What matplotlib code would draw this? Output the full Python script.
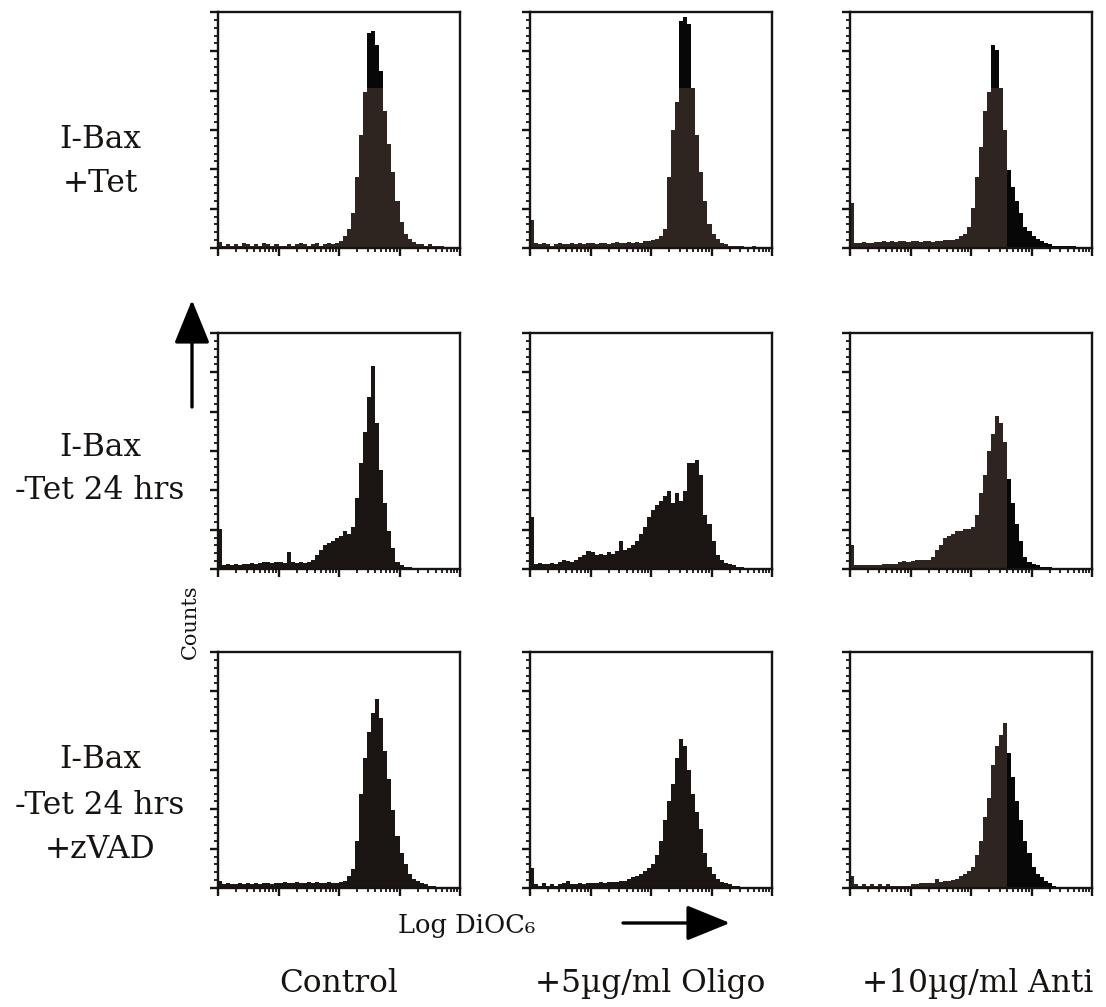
import numpy as np
import matplotlib
matplotlib.use('Agg')
import matplotlib.pyplot as plt
from matplotlib.ticker import MultipleLocator, AutoMinorLocator, LogLocator, NullFormatter

# labels
row_labels = [['I-Bax', '+Tet'],
              ['I-Bax', '-Tet 24 hrs'],
              ['I-Bax', '-Tet 24 hrs', '+zVAD']]
col_labels = ['Control', '+5µg/ml Oligo', '+10µg/ml Anti']
x_label = 'Log DiOC₆'
y_label = 'Counts'

# 60 log channels over 4 decades; counts as % of full scale
n_bins = 60
decades = 4

ctrl_tet = [2.5, 1, 1.5, 1, 1.5, 1, 2, 1.5, 1, 1.5,
            1, 2, 1.5, 1, 1.5, 1, 1, 1.5, 1, 1.5,
            2, 1.5, 1, 1.5, 2, 1, 1.5, 2, 1.5, 2,
            3, 5, 8, 15, 30, 48, 66, 91, 92, 86,
            75, 58, 44, 32, 20, 11, 6, 4, 2.5, 1.5,
            1.5, 1, 1.5, 1, 1, 1, 0.5, 0.5, 0.5, 0.5]
oligo_tet = [12, 2, 1.5, 2, 1.5, 1, 1.5, 2, 1.5, 1.5,
             2, 1.5, 2, 1.5, 2, 2, 1.5, 2, 2, 1.5,
             2, 2.5, 2, 2, 2.5, 2, 2.5, 2, 3, 3,
             3.5, 4, 5, 8, 30, 50, 62, 96, 98, 95,
             68, 48, 32, 20, 10, 6, 4, 2, 1.5, 1,
             1, 1, 1, 0.5, 0.5, 1, 0.5, 0.5, 0.5, 0.5]
anti_tet = [19, 2, 2, 2.5, 2, 2, 2.5, 2.5, 3, 2.5,
            3, 2.5, 3, 3, 2.5, 3, 3, 2.5, 3, 3,
            2.5, 3, 3, 3.5, 3.5, 3.5, 4, 5, 6, 9,
            17, 30, 43, 58, 66, 86, 84, 68, 50, 33,
            26, 20, 15, 9, 7, 5, 4, 3, 2, 1.5,
            1, 1, 1, 1, 1, 1, 0.5, 0.5, 0.5, 0.5]
ctrl_notet = [17, 1.5, 2, 1.5, 2, 1.5, 2, 2, 2.5, 2,
              2.5, 3, 3, 2.5, 3, 3, 2.5, 7, 3, 2.5,
              3, 2.5, 3, 4, 6, 8, 10, 11, 12, 13,
              14, 16, 15, 18, 30, 45, 58, 73, 86, 62,
              42, 28, 16, 9, 3, 1.5, 1, 1, 0.5, 0.5,
              0.5, 0.5, 0.5, 0.5, 0.5, 0.5, 0.5, 0.5, 0.5, 0.5]
oligo_notet = [22, 2, 2.5, 2, 2, 2.5, 2, 3, 4, 3.5,
               3, 4, 5, 6, 7.5, 7, 6, 6.5, 6, 7,
               6.5, 7.5, 12, 8, 9, 10, 12, 15, 18, 22,
               25, 27, 29, 31, 33, 28, 32, 29, 33, 45,
               45, 46, 40, 23, 19, 12, 6, 4, 2.5, 2,
               1.5, 1, 1, 0.5, 0.5, 0.5, 0.5, 0.5, 0.5, 0.5]
anti_notet = [10, 1.5, 1.5, 1.5, 1.5, 1.5, 1.5, 1.5, 2, 2,
              2, 2, 3, 3.5, 3, 3.5, 4, 4, 4, 4,
              5, 8, 10, 13, 14, 15, 16, 16, 17, 17,
              18, 23, 32, 40, 50, 57, 65, 62, 54, 38,
              28, 19, 12, 5, 3, 2, 1.5, 1, 1, 1,
              0.5, 0.5, 0.5, 0.5, 0.5, 0.5, 0.5, 0.5, 0.5, 0.5]
ctrl_zvad = [3, 1.5, 2, 1.5, 1.5, 2, 1.5, 2, 1.5, 2,
             1.5, 2, 2, 1.5, 2, 2, 2.5, 2, 2, 2.5,
             2, 2, 2.5, 2, 2.5, 2, 2, 2.5, 2, 2,
             2.5, 3, 5, 8, 20, 40, 55, 66, 74, 80,
             72, 58, 46, 33, 22, 15, 10, 6, 4, 3,
             2, 1.5, 1, 1, 0.5, 0.5, 0.5, 0.5, 0.5, 0.5]
oligo_zvad = [8.5, 1.5, 1, 2, 1, 1.5, 1, 1.5, 2, 3,
              1.5, 1.5, 2, 1.5, 2, 2, 2, 2.5, 2, 2.5,
              2.5, 2.5, 3, 3, 4, 4.5, 5, 6, 7, 8.5,
              10, 14, 20, 29, 37, 44, 55, 63, 60, 50,
              40, 32, 25, 15, 9, 6, 4, 2.5, 2, 1.5,
              1, 1, 0.5, 0.5, 0.5, 0.5, 0.5, 0.5, 0.5, 0.5]
anti_zvad = [5, 1.5, 1, 1.5, 1, 1.5, 1, 1.5, 1, 1.5,
             1, 1, 1, 1, 1, 1.5, 1.5, 2, 2, 2,
             2, 4, 2.5, 3, 3, 3.5, 4, 5, 6, 7,
             9, 14, 20, 30, 38, 52, 60, 65, 70, 57,
             47, 37, 29, 20, 15, 9, 6, 4.5, 3, 2,
             1, 0.5, 0.5, 0.5, 0.5, 0.5, 0.5, 0.5, 0.5, 0.5]

panels = [[ctrl_tet, oligo_tet, anti_tet],
          [ctrl_notet, oligo_notet, anti_notet],
          [ctrl_zvad, oligo_zvad, anti_zvad]]

W, H = 1106, 1007
fig = plt.figure(figsize=(W / 100, H / 100), dpi=100)
fig.patch.set_facecolor('white')

serif = ['DejaVu Serif']
ink = '#161311'
brown = '#2e2420'
dark = '#1b1613'
black = '#080707'

col_left = [218, 530, 850]
row_top = [12, 333, 652]
pw, ph = 242, 236

edges = np.logspace(0, decades, n_bins + 1)
split = np.searchsorted(edges, 10 ** 2.54)

for i in range(3):
    for j in range(3):
        ax = fig.add_axes([col_left[j] / W, 1 - (row_top[i] + ph) / H, pw / W, ph / H])
        vals = np.array(panels[i][j], dtype=float)
        base = dark if (i > 0 and j < 2) else brown
        ax.stairs(vals, edges, fill=True, color=base, lw=0)
        # scan artefact: darker tone on upper part (row 1) and right part (col 3)
        if i == 0:
            ax.stairs(np.clip(vals, 68, None), edges, baseline=68, fill=True, color=black, lw=0)
        if j == 2:
            ax.stairs(vals[split:], edges[split:], fill=True, color=black, lw=0)
        ax.set_xscale('log')
        ax.set_xlim(1, 10 ** decades)
        ax.set_ylim(0, 100)
        ax.xaxis.set_major_locator(LogLocator(base=10, numticks=10))
        ax.xaxis.set_minor_locator(LogLocator(base=10, subs=np.arange(2, 10), numticks=50))
        ax.xaxis.set_major_formatter(NullFormatter())
        ax.xaxis.set_minor_formatter(NullFormatter())
        ax.yaxis.set_major_locator(MultipleLocator(100 / 6))
        ax.yaxis.set_minor_locator(AutoMinorLocator(5))
        ax.yaxis.set_major_formatter(NullFormatter())
        ax.tick_params(which='major', direction='out', length=5.5, width=1.7, color=ink,
                       top=False, right=False)
        ax.tick_params(which='minor', direction='out', length=3, width=1.3, color=ink,
                       top=False, right=False)
        for s in ax.spines.values():
            s.set_linewidth(1.7)
            s.set_color(ink)

# row labels
row_line_y = [[140, 183], [447, 490], [760, 805, 850]]
for lines, ys in zip(row_labels, row_line_y):
    for txt, y in zip(lines, ys):
        fig.text(100 / W, 1 - y / H, txt, ha='center', va='center',
                 fontsize=22.5, family=serif, color=ink)

# column labels
col_cx = [339, 650, 978]
for txt, cx in zip(col_labels, col_cx):
    fig.text(cx / W, 1 - 992 / H, txt, ha='center', va='baseline',
             fontsize=22.5, family=serif, color=ink)

fig.text(398 / W, 1 - 933 / H, x_label, ha='left', va='baseline',
         fontsize=18.5, family=serif, color=ink)
fig.text(190 / W, 1 - 622 / H, y_label, ha='center', va='center', rotation=90,
         fontsize=15, family=serif, color=ink)

arrow_kw = dict(arrowstyle='-|>,head_length=1.35,head_width=0.55', lw=2.4,
                color='black', mutation_scale=20, shrinkA=0, shrinkB=0)
fig.add_artist(plt.Annotation('', xy=(192, H - 300), xytext=(192, H - 407),
                              xycoords='figure pixels', textcoords='figure pixels',
                              arrowprops=arrow_kw))
fig.add_artist(plt.Annotation('', xy=(730, H - 923), xytext=(623, H - 923),
                              xycoords='figure pixels', textcoords='figure pixels',
                              arrowprops=arrow_kw))

fig.savefig('out.png', dpi=100, facecolor='white')
